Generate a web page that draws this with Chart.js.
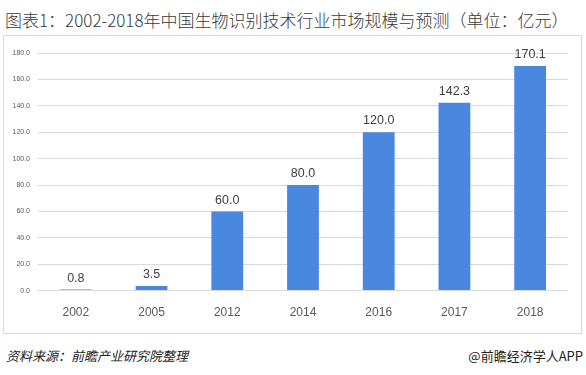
<!DOCTYPE html>
<html lang="zh-CN">
<head>
<meta charset="UTF-8">
<title>中国生物识别技术行业市场规模与预测</title>
<script src="https://cdn.jsdelivr.net/npm/chart.js"></script>
<style>
    body { margin: 0; width: 586px; height: 375px; background: #fff; position: relative; overflow: hidden;
           font-family: "Noto Sans CJK SC", "Noto Sans", sans-serif; }
    .title { position: absolute; left: 5px; top: 7px; font-size: 17px; color: #3a3a3a; white-space: nowrap; font-weight: 300; }
    .frame { position: absolute; left: 3px; top: 35px; width: 579px; height: 299px; border: 1px solid #d9d9d9; box-sizing: border-box; }
    .wrap { position: absolute; left: 4px; top: 36px; width: 577px; height: 297px; }
    .source { position: absolute; left: 6px; top: 346px; font-size: 13px; color: #222; font-style: italic; }
    .brand { position: absolute; right: 3px; top: 346px; font-size: 13px; color: #222; }
</style>
</head>
<body>
<div class="title">图表1：2002-2018年中国生物识别技术行业市场规模与预测（单位：亿元）</div>
<div class="frame"></div>
<div class="wrap"><canvas id="marketChart"></canvas></div>
<div class="source">资料来源：前瞻产业研究院整理</div>
<div class="brand">@前瞻经济学人APP</div>
<script>
    // 数据
    const years = ['2002', '2005', '2012', '2014', '2016', '2017', '2018'];
    const marketSize = [0.8, 3.5, 60.0, 80.0, 120.0, 142.3, 170.1];

    // 柱顶数值
    const valueLabels = {
        id: 'valueLabels',
        afterDatasetsDraw(chart) {
            const ctx = chart.ctx;
            const meta = chart.getDatasetMeta(0);
            ctx.save();
            ctx.font = '12.5px "Liberation Sans", Arial, sans-serif';
            ctx.fillStyle = '#404040';
            ctx.textAlign = 'center';
            ctx.textBaseline = 'bottom';
            meta.data.forEach((bar, i) => {
                ctx.fillText(marketSize[i].toFixed(1), bar.x, bar.y - 5);
            });
            ctx.restore();
        }
    };

    new Chart(document.getElementById('marketChart'), {
        type: 'bar',
        data: {
            labels: years,
            datasets: [{
                data: marketSize,
                backgroundColor: '#4a88e0',
                categoryPercentage: 1,
                barPercentage: 0.42
            }]
        },
        options: {
            responsive: true,
            maintainAspectRatio: false,
            animation: false,
            layout: { padding: { top: 17, right: 13, bottom: 6, left: 0 } },
            plugins: { legend: { display: false }, tooltip: { enabled: false } },
            scales: {
                x: {
                    grid: { display: false },
                    border: { display: false },
                    ticks: { color: '#595959', font: { size: 12, family: '"Liberation Sans", Arial, sans-serif' }, padding: 7 }
                },
                y: {
                    min: 0,
                    max: 180,
                    afterFit(scale) { scale.width = 34; },
                    grid: { color: '#d9d9d9', drawTicks: false },
                    border: { display: false },
                    ticks: {
                        stepSize: 20,
                        padding: 8,
                        color: '#595959',
                        font: { size: 7, family: '"Liberation Sans", Arial, sans-serif' },
                        callback: v => v.toFixed(1)
                    }
                }
            }
        },
        plugins: [valueLabels]
    });
</script>
</body>
</html>
